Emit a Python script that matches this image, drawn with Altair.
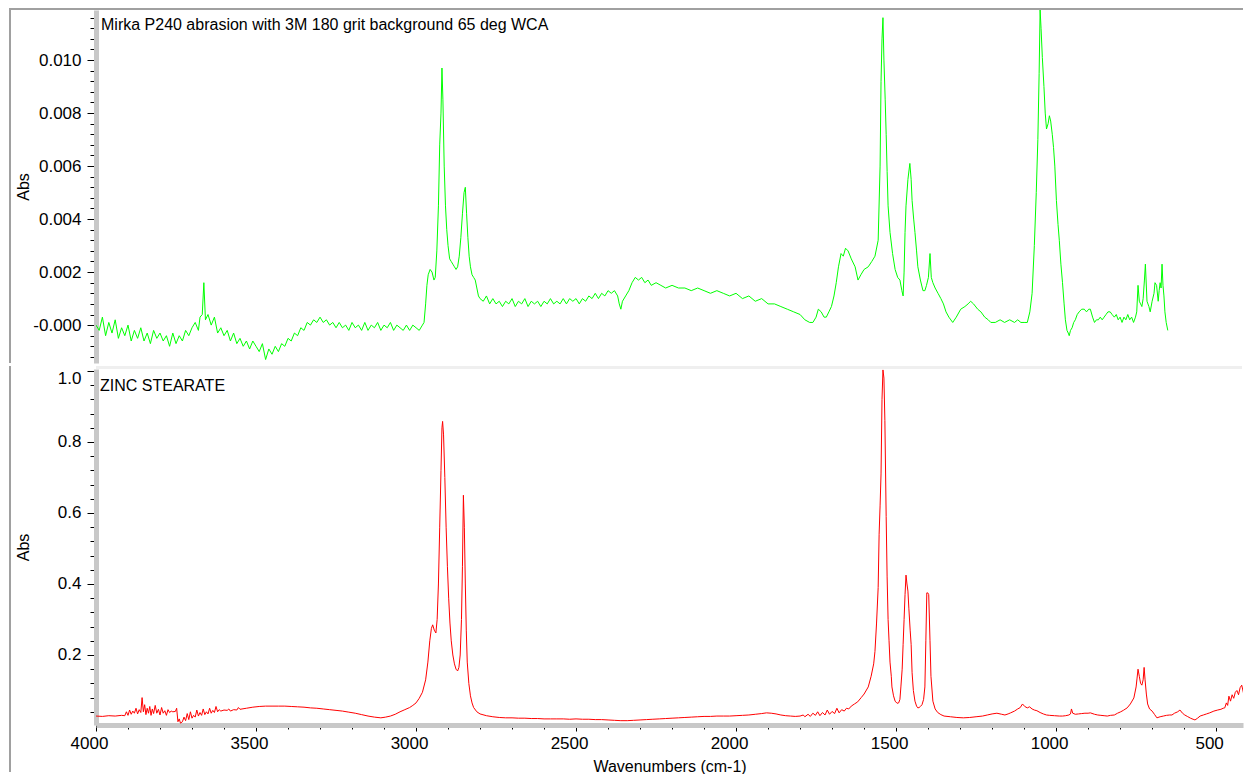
import altair as alt
import pandas as pd

# ---------------- data ----------------
TOP_LABEL = "Mirka P240 abrasion with 3M 180 grit background 65 deg WCA"
BOTTOM_LABEL = "ZINC STEARATE"
X_TITLE = "Wavenumbers (cm-1)"
Y_TITLE = "Abs"

GREEN_WN = [
    4000, 3990, 3980, 3970, 3960, 3950, 3940, 3930, 3920, 3910,
    3900, 3890, 3880, 3870, 3860, 3850, 3840, 3830, 3820, 3810,
    3800, 3790, 3780, 3770, 3760, 3750, 3740, 3730, 3720, 3710,
    3700, 3690, 3680, 3675, 3668, 3663, 3658, 3650, 3640, 3630,
    3620, 3610, 3600, 3590, 3580, 3570, 3560, 3550, 3540, 3530,
    3520, 3510, 3500, 3490, 3480, 3470, 3460, 3450, 3440, 3430,
    3420, 3410, 3400, 3390, 3380, 3370, 3360, 3350, 3340, 3330,
    3320, 3310, 3300, 3290, 3280, 3270, 3260, 3250, 3240, 3230,
    3220, 3210, 3200, 3190, 3180, 3170, 3160, 3150, 3140, 3130,
    3120, 3110, 3100, 3090, 3080, 3070, 3060, 3050, 3040, 3030,
    3020, 3010, 3000, 2990, 2980, 2975, 2970, 2966, 2962, 2956,
    2950, 2944, 2940, 2935, 2930, 2926, 2922, 2919, 2916, 2912,
    2908, 2904, 2900, 2895, 2890, 2885, 2880, 2875, 2870, 2865,
    2860, 2855, 2850, 2846, 2842, 2838, 2834, 2830, 2825, 2820,
    2815, 2810, 2805, 2800, 2790, 2780, 2770, 2760, 2750, 2740,
    2730, 2720, 2710, 2700, 2690, 2680, 2670, 2660, 2650, 2640,
    2630, 2620, 2610, 2600, 2590, 2580, 2570, 2560, 2550, 2540,
    2530, 2520, 2510, 2500, 2490, 2480, 2470, 2460, 2450, 2440,
    2430, 2420, 2410, 2400, 2390, 2380, 2370, 2365, 2360, 2355,
    2345, 2335, 2325, 2315, 2305, 2295, 2285, 2275, 2265, 2250,
    2235, 2220, 2200, 2180, 2160, 2140, 2120, 2100, 2080, 2060,
    2040, 2020, 2000, 1980, 1960, 1940, 1920, 1900, 1880, 1860,
    1840, 1820, 1800, 1785, 1770, 1760, 1750, 1743, 1734, 1725,
    1718, 1710, 1702, 1694, 1687, 1680, 1672, 1665, 1658, 1650,
    1640, 1628, 1619, 1610, 1600, 1587, 1576, 1566, 1556, 1550,
    1547, 1544, 1541, 1538, 1534, 1531, 1528, 1525, 1519, 1511,
    1503, 1495, 1488, 1482, 1478, 1475, 1472, 1469, 1463, 1457,
    1453, 1450, 1445, 1441, 1436, 1432, 1424, 1416, 1410, 1405,
    1399, 1394, 1390, 1385, 1378, 1369, 1360, 1352, 1344, 1335,
    1323, 1312, 1298, 1285, 1275, 1267, 1258, 1245, 1235, 1223,
    1212, 1204, 1190, 1175, 1161, 1145, 1130, 1120, 1110, 1100,
    1090, 1082, 1075, 1068, 1062, 1057, 1053, 1050, 1047, 1043,
    1038, 1034, 1030, 1025, 1021, 1017, 1012, 1008, 1004, 999,
    994, 990, 985, 980, 975, 971, 966, 962, 959, 955,
    950, 945, 940, 934, 928, 920, 912, 905, 898, 893,
    886, 880, 874, 868, 862, 856, 850, 844, 838, 831,
    825, 818, 812, 806, 800, 794, 788, 782, 776, 770,
    764, 758, 752, 748, 744, 740, 736, 732, 728, 724,
    721, 716, 710, 706, 700, 694, 691, 686, 681, 678,
    675, 672, 669, 666, 663, 660, 656, 651,
]
GREEN_ABS = [
    0.0000, -0.0002, 0.0003, -0.0004, 0.0001, -0.0003, 0.0002, -0.0005, -0.0001, -0.0004,
    0.0000, -0.0006, -0.0002, -0.0005, -0.0001, -0.0006, -0.0003, -0.0007, -0.0002, -0.0005,
    -0.0003, -0.0006, -0.0004, -0.0008, -0.0003, -0.0007, -0.0004, -0.0006, -0.0002, -0.0004,
    -0.0001, 0.0001, -0.0002, 0.0003, 0.0004, 0.0016, 0.0002, 0.0004, 0.0000, 0.0003,
    -0.0003, -0.0001, -0.0004, -0.0002, -0.0006, -0.0003, -0.0007, -0.0005, -0.0008, -0.0006,
    -0.0009, -0.0006, -0.0008, -0.0010, -0.0007, -0.0013, -0.0009, -0.0011, -0.0008, -0.0010,
    -0.0007, -0.0008, -0.0005, -0.0006, -0.0003, -0.0004, -0.0001, -0.0002, 0.0001, 0.0000,
    0.0002, 0.0001, 0.0003, 0.0001, 0.0002, 0.0000, 0.0001, -0.0001, 0.0001, -0.0001,
    0.0000, -0.0002, 0.0001, -0.0001, 0.0000, -0.0002, 0.0001, -0.0002, 0.0000, -0.0001,
    0.0001, -0.0002, 0.0000, -0.0001, 0.0001, -0.0002, 0.0000, -0.0001, -0.0002, 0.0000,
    -0.0002, 0.0000, -0.0001, -0.0002, 0.0000, 0.0001, 0.0008, 0.0015, 0.0019, 0.0021,
    0.0020, 0.0017, 0.0018, 0.0028, 0.0045, 0.0068, 0.0080, 0.0097, 0.0085, 0.0060,
    0.0045, 0.0036, 0.0030, 0.0025, 0.0024, 0.0023, 0.0022, 0.0021, 0.0022, 0.0026,
    0.0033, 0.0042, 0.0050, 0.0052, 0.0042, 0.0033, 0.0026, 0.0022, 0.0019, 0.0018,
    0.0017, 0.0014, 0.0011, 0.0010, 0.0009, 0.0011, 0.0008, 0.0010, 0.0008, 0.0009,
    0.0007, 0.0009, 0.0008, 0.0010, 0.0007, 0.0009, 0.0008, 0.0010, 0.0007, 0.0009,
    0.0008, 0.0009, 0.0007, 0.0009, 0.0008, 0.0010, 0.0008, 0.0009, 0.0008, 0.0010,
    0.0008, 0.0010, 0.0009, 0.0010, 0.0008, 0.0010, 0.0009, 0.0011, 0.0010, 0.0012,
    0.0010, 0.0012, 0.0011, 0.0013, 0.0012, 0.0013, 0.0011, 0.0008, 0.0006, 0.0009,
    0.0011, 0.0013, 0.0016, 0.0018, 0.0017, 0.0018, 0.0016, 0.0017, 0.0015, 0.0016,
    0.0015, 0.0014, 0.0015, 0.0014, 0.0014, 0.0013, 0.0014, 0.0013, 0.0012, 0.0013,
    0.0012, 0.0011, 0.0012, 0.0010, 0.0011, 0.0009, 0.0010, 0.0008, 0.0008, 0.0007,
    0.0006, 0.0005, 0.0004, 0.0002, 0.0001, 0.0001, 0.0003, 0.0006, 0.0005, 0.0003,
    0.0003, 0.0005, 0.0007, 0.0011, 0.0016, 0.0022, 0.0027, 0.0026, 0.0029, 0.0028,
    0.0025, 0.0022, 0.0017, 0.0019, 0.0021, 0.0022, 0.0024, 0.0026, 0.0032, 0.0060,
    0.0092, 0.0108, 0.0116, 0.0100, 0.0085, 0.0072, 0.0058, 0.0045, 0.0035, 0.0027,
    0.0021, 0.0018, 0.0017, 0.0013, 0.0011, 0.0020, 0.0035, 0.0045, 0.0055, 0.0061,
    0.0055, 0.0047, 0.0040, 0.0035, 0.0028, 0.0022, 0.0017, 0.0013, 0.0013, 0.0015,
    0.0018, 0.0027, 0.0018, 0.0016, 0.0014, 0.0012, 0.0010, 0.0008, 0.0005, 0.0003,
    0.0001, 0.0003, 0.0006, 0.0007, 0.0008, 0.0009, 0.0008, 0.0006, 0.0005, 0.0003,
    0.0002, 0.0001, 0.0001, 0.0002, 0.0001, 0.0002, 0.0001, 0.0002, 0.0001, 0.0001,
    0.0001, 0.0005, 0.0012, 0.0030, 0.0050, 0.0070, 0.0095, 0.0119, 0.0112, 0.0101,
    0.0090, 0.0080, 0.0074, 0.0076, 0.0079, 0.0077, 0.0072, 0.0067, 0.0060, 0.0047,
    0.0038, 0.0032, 0.0023, 0.0016, 0.0008, 0.0002, -0.0002, -0.0003, -0.0004, -0.0002,
    -0.0001, 0.0001, 0.0002, 0.0004, 0.0005, 0.0006, 0.0006, 0.0005, 0.0006, 0.0006,
    0.0003, 0.0001, 0.0002, 0.0002, 0.0003, 0.0002, 0.0003, 0.0004, 0.0005, 0.0005,
    0.0004, 0.0003, 0.0004, 0.0002, 0.0003, 0.0001, 0.0003, 0.0002, 0.0004, 0.0002,
    0.0003, 0.0001, 0.0003, 0.0005, 0.0015, 0.0009, 0.0008, 0.0007, 0.0010, 0.0017,
    0.0023, 0.0009, 0.0007, 0.0005, 0.0009, 0.0012, 0.0016, 0.0015, 0.0009, 0.0013,
    0.0016, 0.0014, 0.0023, 0.0015, 0.0011, 0.0005, 0.0001, -0.0002,
]

RED_WN = [
    4000, 3980, 3960, 3940, 3920, 3910, 3905, 3900, 3895, 3890,
    3885, 3880, 3875, 3870, 3865, 3860, 3856, 3852, 3848, 3844,
    3840, 3836, 3832, 3828, 3824, 3820, 3815, 3810, 3805, 3800,
    3795, 3790, 3785, 3780, 3775, 3770, 3765, 3760, 3752, 3748,
    3744, 3740, 3736, 3730, 3725, 3720, 3715, 3710, 3705, 3700,
    3695, 3690, 3685, 3680, 3675, 3670, 3665, 3660, 3655, 3650,
    3645, 3640, 3635, 3630, 3625, 3620, 3615, 3610, 3600, 3590,
    3585, 3580, 3570, 3560, 3555, 3550, 3530, 3510, 3490, 3470,
    3450, 3430, 3410, 3390, 3370, 3350, 3330, 3310, 3290, 3270,
    3250, 3230, 3210, 3190, 3170, 3150, 3130, 3110, 3095, 3080,
    3065, 3050, 3035, 3020, 3010, 3000, 2990, 2980, 2970, 2963,
    2957, 2952, 2948, 2943, 2938, 2934, 2930, 2926, 2922, 2919,
    2917, 2914, 2910, 2906, 2902, 2898, 2894, 2890, 2885, 2880,
    2875, 2870, 2866, 2862, 2858, 2855, 2852, 2849, 2846, 2843,
    2840, 2835, 2830, 2825, 2820, 2810, 2800, 2780, 2760, 2740,
    2720, 2700, 2680, 2660, 2640, 2620, 2600, 2580, 2560, 2540,
    2520, 2500, 2480, 2460, 2440, 2420, 2400, 2380, 2360, 2340,
    2320, 2300, 2280, 2260, 2240, 2220, 2200, 2180, 2160, 2140,
    2120, 2100, 2080, 2060, 2040, 2020, 2000, 1980, 1960, 1940,
    1920, 1905, 1890, 1875, 1860, 1845, 1830, 1815, 1800, 1790,
    1785, 1775, 1768, 1760, 1752, 1745, 1738, 1730, 1722, 1715,
    1708, 1700, 1692, 1685, 1678, 1670, 1662, 1655, 1648, 1640,
    1630, 1620, 1609, 1600, 1587, 1578, 1570, 1566, 1561, 1556,
    1553, 1550, 1547, 1544, 1541, 1538, 1535, 1531, 1528, 1525,
    1522, 1519, 1515, 1513, 1508, 1503, 1497, 1492, 1488, 1485,
    1481, 1478, 1475, 1472, 1469, 1466, 1463, 1460, 1456, 1453,
    1450, 1446, 1441, 1436, 1432, 1428, 1424, 1419, 1414, 1410,
    1407, 1404, 1401, 1398, 1394, 1391, 1385, 1378, 1370, 1360,
    1350, 1330, 1310, 1290, 1270, 1250, 1230, 1215, 1200, 1185,
    1170, 1160, 1150, 1142, 1130, 1120, 1112, 1105, 1098, 1090,
    1083, 1075, 1068, 1060, 1050, 1040, 1030, 1020, 1005, 990,
    980, 970, 960, 955, 952, 948, 940, 930, 920, 910,
    900, 893, 880, 870, 860, 850, 840, 830, 818, 808,
    798, 790, 778, 768, 757, 750, 747, 744, 740, 736,
    732, 728, 725, 722, 718, 714, 708, 700, 692, 685,
    675, 665, 655, 645, 638, 630, 620, 613, 605, 598,
    590, 580, 572, 566, 558, 550, 540, 530, 520, 507,
    495, 485, 478, 473, 468, 464, 460, 455, 450, 445,
    440, 435, 430, 425, 420, 415, 410, 406, 403, 400,
]
RED_ABS = [
    0.028, 0.027, 0.029, 0.028, 0.030, 0.029, 0.040, 0.030, 0.045, 0.033,
    0.042, 0.036, 0.050, 0.034, 0.046, 0.038, 0.080, 0.040, 0.060, 0.032,
    0.050, 0.036, 0.055, 0.030, 0.048, 0.035, 0.058, 0.036, 0.047, 0.031,
    0.052, 0.036, 0.043, 0.030, 0.046, 0.038, 0.042, 0.040, 0.041, 0.050,
    0.012, 0.020, 0.008, 0.012, 0.025, 0.015, 0.035, 0.018, 0.040, 0.022,
    0.030, 0.025, 0.045, 0.028, 0.038, 0.030, 0.048, 0.032, 0.040, 0.034,
    0.050, 0.036, 0.044, 0.038, 0.055, 0.040, 0.046, 0.042, 0.045, 0.044,
    0.048, 0.042, 0.046, 0.045, 0.052, 0.047, 0.050, 0.053, 0.055, 0.056,
    0.056, 0.056, 0.056, 0.055, 0.054, 0.053, 0.051, 0.050, 0.048, 0.046,
    0.044, 0.042, 0.039, 0.036, 0.032, 0.028, 0.025, 0.023, 0.025, 0.028,
    0.033, 0.040, 0.046, 0.052, 0.058, 0.065, 0.078, 0.095, 0.130, 0.180,
    0.240, 0.275, 0.285, 0.270, 0.262, 0.300, 0.400, 0.560, 0.720, 0.840,
    0.858, 0.820, 0.700, 0.560, 0.450, 0.360, 0.290, 0.240, 0.200, 0.175,
    0.160, 0.155, 0.165, 0.200, 0.300, 0.450, 0.650, 0.560, 0.400, 0.270,
    0.180, 0.120, 0.085, 0.065, 0.052, 0.040, 0.034, 0.029, 0.026, 0.024,
    0.023, 0.023, 0.022, 0.022, 0.021, 0.021, 0.020, 0.020, 0.020, 0.020,
    0.019, 0.020, 0.019, 0.019, 0.018, 0.018, 0.017, 0.016, 0.015, 0.015,
    0.016, 0.017, 0.018, 0.019, 0.020, 0.021, 0.022, 0.023, 0.024, 0.025,
    0.026, 0.027, 0.027, 0.028, 0.028, 0.028, 0.029, 0.030, 0.031, 0.033,
    0.035, 0.037, 0.036, 0.034, 0.031, 0.029, 0.028, 0.027, 0.028, 0.031,
    0.026, 0.033, 0.027, 0.036, 0.030, 0.040, 0.029, 0.038, 0.031, 0.045,
    0.033, 0.041, 0.035, 0.050, 0.037, 0.046, 0.042, 0.050, 0.048, 0.056,
    0.062, 0.068, 0.080, 0.090, 0.110, 0.140, 0.175, 0.210, 0.290, 0.390,
    0.540, 0.620, 0.710, 0.920, 1.003, 0.980, 0.860, 0.590, 0.420, 0.300,
    0.240, 0.180, 0.140, 0.110, 0.085, 0.070, 0.064, 0.065, 0.075, 0.110,
    0.160, 0.230, 0.300, 0.370, 0.425, 0.400, 0.380, 0.330, 0.270, 0.230,
    0.150, 0.100, 0.070, 0.056, 0.051, 0.052, 0.055, 0.060, 0.075, 0.110,
    0.240, 0.375, 0.375, 0.370, 0.240, 0.140, 0.070, 0.048, 0.038, 0.032,
    0.028, 0.026, 0.024, 0.023, 0.024, 0.026, 0.028, 0.031, 0.034, 0.036,
    0.033, 0.031, 0.034, 0.037, 0.042, 0.048, 0.052, 0.062, 0.055, 0.051,
    0.054, 0.048, 0.045, 0.043, 0.038, 0.034, 0.031, 0.030, 0.029, 0.028,
    0.028, 0.029, 0.031, 0.034, 0.048, 0.036, 0.033, 0.034, 0.035, 0.036,
    0.036, 0.037, 0.033, 0.031, 0.030, 0.029, 0.028, 0.030, 0.031, 0.036,
    0.040, 0.044, 0.051, 0.062, 0.079, 0.110, 0.135, 0.160, 0.140, 0.120,
    0.115, 0.130, 0.165, 0.130, 0.090, 0.062, 0.048, 0.042, 0.032, 0.023,
    0.026, 0.028, 0.030, 0.031, 0.031, 0.036, 0.040, 0.045, 0.036, 0.031,
    0.027, 0.022, 0.019, 0.017, 0.022, 0.028, 0.031, 0.034, 0.037, 0.042,
    0.045, 0.047, 0.050, 0.051, 0.065, 0.058, 0.084, 0.070, 0.088, 0.078,
    0.095, 0.100, 0.088, 0.108, 0.115, 0.095, 0.070, 0.120, 0.210, 0.130,
]

X_DOMAIN = [4000, 416]
TOP_Y_DOMAIN = [-0.00143, 0.01189]
BOT_Y_DOMAIN = [0.0028, 1.0056]

X_TICKS = [4000, 3900, 3800, 3700, 3600, 3500, 3400, 3300, 3200, 3100,
           3000, 2900, 2800, 2700, 2600, 2500, 2400, 2300, 2200, 2100,
           2000, 1900, 1800, 1700, 1600, 1500, 1400, 1300, 1200, 1100,
           1000, 900, 800, 700, 600, 500]
TOP_Y_TICKS = [-0.0012, -0.0008, -0.0004, 0.0, 0.0004, 0.0008, 0.0012, 0.0016,
               0.002, 0.0024, 0.0028, 0.0032, 0.0036, 0.004, 0.0044, 0.0048,
               0.0052, 0.0056, 0.006, 0.0064, 0.0068, 0.0072, 0.0076, 0.008,
               0.0084, 0.0088, 0.0092, 0.0096, 0.01, 0.0104, 0.0108, 0.0112, 0.0116]
BOT_Y_TICKS = [0.04, 0.08, 0.12, 0.16, 0.2, 0.24, 0.28, 0.32, 0.36, 0.4,
               0.44, 0.48, 0.52, 0.56, 0.6, 0.64, 0.68, 0.72, 0.76, 0.8,
               0.84, 0.88, 0.92, 0.96, 1.0]

# ---------------- chart ----------------
FONT = "Liberation Sans"
W = 1147
H_TOP = 353
H_BOT = 356
BORDER = "#a0a0a0"
AXIS_BAR = "#c8c8c8"

green = pd.DataFrame({"wn": GREEN_WN, "abs": GREEN_ABS})
red = pd.DataFrame({"wn": RED_WN, "abs": RED_ABS})
one = pd.DataFrame({"k": [0]})

xscale = alt.Scale(domain=X_DOMAIN, nice=False, zero=False)


def y_axis(values, major_test, label_expr, baseline):
    return alt.Axis(
        values=values,
        title=Y_TITLE,
        titleFont=FONT, titleFontSize=16, titleFontWeight="normal", titleColor="black",
        titleX=-73, titleBaseline="middle",
        labelFont=FONT, labelFontSize=17, labelColor="black",
        labelExpr=label_expr, labelPadding=6, labelOverlap=False, labelFlush=False,
        labelBaseline=baseline,
        tickColor="black", tickWidth=1,
        tickSize={"condition": {"test": major_test, "value": 9}, "value": 6},
        domainColor=AXIS_BAR, domainWidth=5,
        grid=False,
    )


top_major = "round(datum.value*10000) % 20 == 0"
top_axis = y_axis(
    TOP_Y_TICKS, top_major,
    f"{top_major} ? (datum.value == 0 ? '-0.000' : format(datum.value, '.3f')) : ''",
    "middle",
)
bot_major = "round(datum.value*100) % 20 == 0"
bot_axis = y_axis(
    BOT_Y_TICKS, bot_major,
    f"{bot_major} ? format(datum.value, '.1f') : ''",
    {"condition": {"test": "datum.value > 0.99", "value": "top"}, "value": "middle"},
)

x_major = "datum.value % 500 == 0"
x_axis = alt.Axis(
    values=X_TICKS,
    title=X_TITLE,
    titleFont=FONT, titleFontSize=16, titleFontWeight="normal", titleColor="black",
    titleY=33, titleBaseline="top",
    labelFont=FONT, labelFontSize=17, labelColor="black",
    labelExpr=f"{x_major} ? '' + datum.value : ''",
    labelPadding=4, labelOffset=-7, labelOverlap=False, labelFlush=False,
    tickColor="black", tickWidth=1,
    tickSize={"condition": {"test": x_major, "value": 6}, "value": 4},
    domainColor=AXIS_BAR, domainWidth=5,
    grid=False,
)

green_line = alt.Chart(green).mark_line(color="#00ff00", strokeWidth=1, clip=True).encode(
    x=alt.X("wn:Q", scale=xscale, axis=None),
    y=alt.Y("abs:Q", scale=alt.Scale(domain=TOP_Y_DOMAIN, nice=False, zero=False), axis=top_axis),
)
red_line = alt.Chart(red).mark_line(color="#ff0000", strokeWidth=1, clip=True).encode(
    x=alt.X("wn:Q", scale=xscale, axis=x_axis),
    y=alt.Y("abs:Q", scale=alt.Scale(domain=BOT_Y_DOMAIN, nice=False, zero=False), axis=bot_axis),
)

top_border = alt.Chart(one).mark_rule(color=BORDER, strokeWidth=2).encode(
    x=alt.value(-87), x2=alt.value(W), y=alt.value(-1))
left_border_top = alt.Chart(one).mark_rule(color=BORDER, strokeWidth=2).encode(
    x=alt.value(-86), y=alt.value(-1), y2=alt.value(H_TOP))
left_border_bot = alt.Chart(one).mark_rule(color=BORDER, strokeWidth=2).encode(
    x=alt.value(-86), y=alt.value(-3), y2=alt.value(H_BOT + 47))
separator = alt.Chart(one).mark_rule(color="#efefef", strokeWidth=3).encode(
    x=alt.value(0), x2=alt.value(W - 1), y=alt.value(-1.5))

top_text = alt.Chart(pd.DataFrame({"label": [TOP_LABEL]})).mark_text(
    align="left", baseline="middle", font=FONT, fontSize=16, color="black"
).encode(x=alt.value(5), y=alt.value(15), text="label:N")
bot_text = alt.Chart(pd.DataFrame({"label": [BOTTOM_LABEL]})).mark_text(
    align="left", baseline="middle", font=FONT, fontSize=16, color="black"
).encode(x=alt.value(4), y=alt.value(17), text="label:N")

top = alt.layer(top_border, left_border_top, green_line, top_text).properties(width=W, height=H_TOP)
bottom = alt.layer(separator, left_border_bot, red_line, bot_text).properties(width=W, height=H_BOT)

chart = (
    alt.vconcat(top, bottom, spacing=0, padding=0)
    .configure(background="white")
    .configure_view(strokeWidth=0, stroke="transparent")
)

chart.save("out.html", embed_options={"renderer": "svg", "actions": False})
